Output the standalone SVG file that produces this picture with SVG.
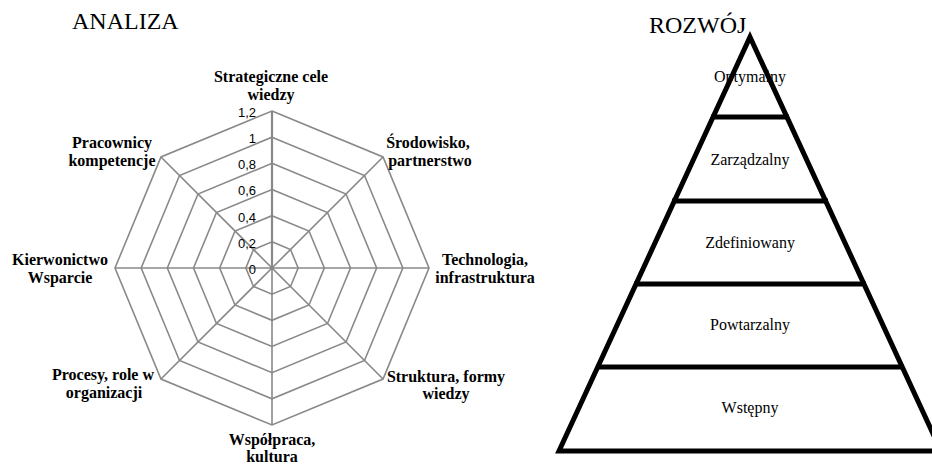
<svg xmlns="http://www.w3.org/2000/svg" width="932" height="466" viewBox="0 0 932 466">
<style>
.title{font-family:"Liberation Serif","Times New Roman",serif;font-size:24px;fill:#000}
.ax{font-family:"Liberation Serif","Times New Roman",serif;font-size:16px;font-weight:bold;fill:#000;text-anchor:middle}
.tick{font-family:"Liberation Sans",Arial,sans-serif;font-size:13px;fill:#000;text-anchor:end}
.grid{fill:none;stroke:#898989;stroke-width:1.6}
.lvl{font-family:"Liberation Serif","Times New Roman",serif;font-size:16px;fill:#000;text-anchor:middle}
.pyr{fill:none;stroke:#000;stroke-width:5}
</style>
<rect width="932" height="466" fill="#fff"/>
<text class="title" x="72" y="29">ANALIZA</text>
<text class="title" x="649" y="33">ROZWÓJ</text>

<g id="radar-grid">
<polygon class="grid" points="272,241.83 290.5,249.5 298.17,268 290.5,286.5 272,294.17 253.5,286.5 245.83,268 253.5,249.5"/>
<polygon class="grid" points="272,215.67 309,231 324.33,268 309,305 272,320.33 235,305 219.67,268 235,231"/>
<polygon class="grid" points="272,189.5 327.51,212.49 350.5,268 327.51,323.51 272,346.5 216.49,323.51 193.5,268 216.49,212.49"/>
<polygon class="grid" points="272,163.33 346.01,193.99 376.67,268 346.01,342.01 272,372.67 197.99,342.01 167.33,268 197.99,193.99"/>
<polygon class="grid" points="272,137.17 364.51,175.49 402.83,268 364.51,360.51 272,398.83 179.49,360.51 141.17,268 179.49,175.49"/>
<polygon class="grid" points="272,111 383.02,156.98 429,268 383.02,379.02 272,425 160.98,379.02 115,268 160.98,156.98"/>
<path class="grid" d="M272,268V111M272,268L383.02,156.98M272,268H429M272,268L383.02,379.02M272,268V425M272,268L160.98,379.02M272,268H115M272,268L160.98,156.98"/>
<path d="M272,268V111" stroke="#898989" stroke-width="2.2"/>
</g>
<g id="radar-ticks">
<text class="tick" x="256" y="273.5">0</text>
<text class="tick" x="256" y="247.5">0,2</text>
<text class="tick" x="256" y="221.5">0,4</text>
<text class="tick" x="256" y="195">0,6</text>
<text class="tick" x="256" y="169">0,8</text>
<text class="tick" x="256" y="143">1</text>
<text class="tick" x="256" y="117">1,2</text>
</g>
<g id="axis-strategiczne"><text class="ax" x="271" y="82">Strategiczne cele</text><text class="ax" x="271" y="100">wiedzy</text></g>
<g id="axis-srodowisko"><text class="ax" x="428" y="148">Środowisko,</text><text class="ax" x="430" y="166">partnerstwo</text></g>
<g id="axis-technologia"><text class="ax" x="485" y="265">Technologia,</text><text class="ax" x="485" y="283">infrastruktura</text></g>
<g id="axis-struktura"><text class="ax" x="446" y="382">Struktura, formy</text><text class="ax" x="446" y="399">wiedzy</text></g>
<g id="axis-wspolpraca"><text class="ax" x="272" y="445">Współpraca,</text><text class="ax" x="272" y="462">kultura</text></g>
<g id="axis-procesy"><text class="ax" x="103" y="380">Procesy, role w</text><text class="ax" x="104" y="398">organizacji</text></g>
<g id="axis-kierownictwo"><text class="ax" x="60" y="265">Kierwonictwo</text><text class="ax" x="60" y="283">Wsparcie</text></g>
<g id="axis-pracownicy"><text class="ax" x="112" y="148">Pracownicy</text><text class="ax" x="112" y="166">kompetencje</text></g>

<g id="level-optymalny"><text class="lvl" x="750" y="82">Optymalny</text></g>
<g id="level-zarzadzalny"><text class="lvl" x="750" y="165">Zarządzalny</text></g>
<g id="level-zdefiniowany"><text class="lvl" x="750" y="248">Zdefiniowany</text></g>
<g id="level-powtarzalny"><text class="lvl" x="750" y="330">Powtarzalny</text></g>
<g id="level-wstepny"><text class="lvl" x="750" y="413">Wstępny</text></g>

<g id="connectors">
<polygon class="pyr" points="750,37 941,451 559,451"/>
<line class="pyr" x1="711" y1="117" x2="789" y2="117"/>
<line class="pyr" x1="672" y1="201" x2="828" y2="201"/>
<line class="pyr" x1="634" y1="284" x2="866" y2="284"/>
<line class="pyr" x1="596" y1="367" x2="904" y2="367"/>
</g>
</svg>
